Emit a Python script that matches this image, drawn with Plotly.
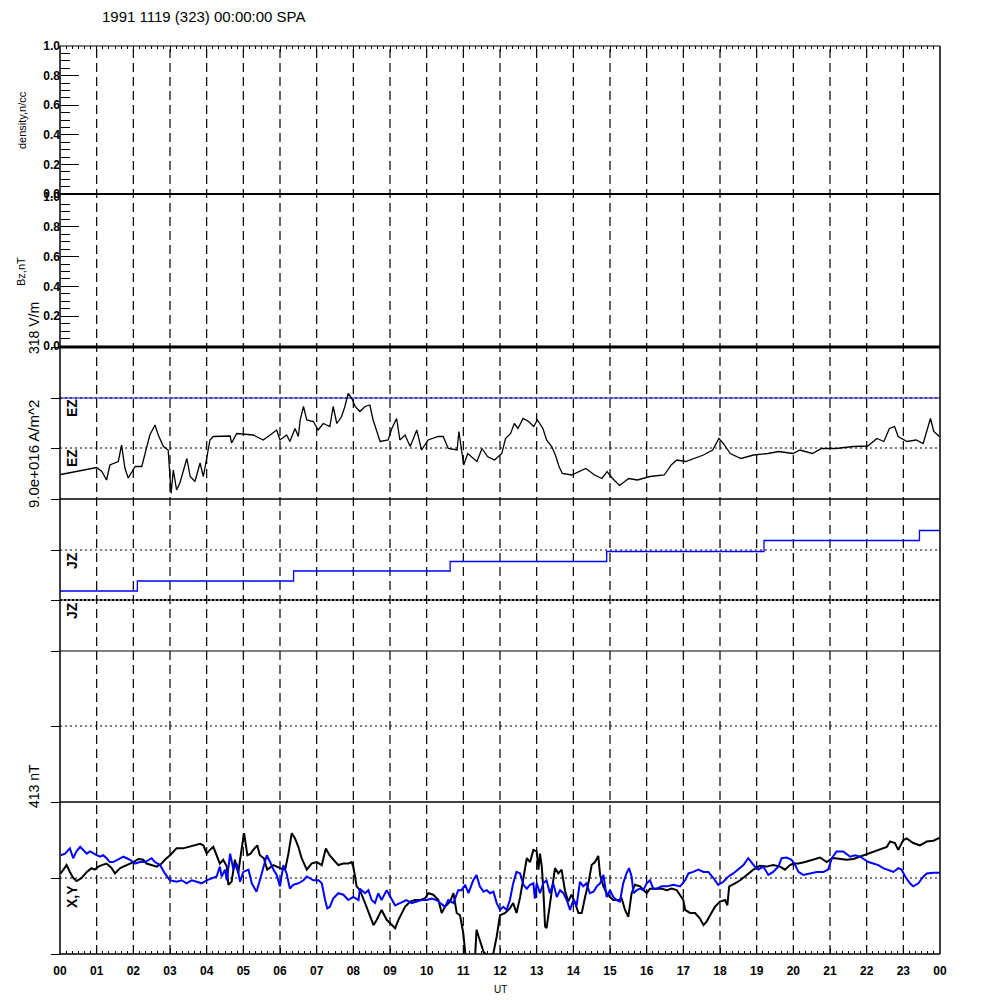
import plotly.graph_objects as go

TITLE = "1991 1119 (323) 00:00:00 SPA"
HOUR_TICKS = list(range(25))
HOUR_LABELS = ["%02d" % (h % 24) for h in range(25)]
GRID_HOURS = list(range(1, 24))

# EZ (arbitrary units: 0 = lower dotted reference, 1 = blue reference line)
EZ_HOURS = [0.02,1.00,1.14,1.27,1.36,1.59,1.68,1.77,1.86,2.05,
            2.23,2.32,2.45,2.59,2.68,2.82,2.95,3.03,3.09,3.18,
            3.27,3.46,3.55,3.68,3.82,3.91,4.00,4.09,4.18,4.64,
            4.68,4.82,5.27,5.54,5.73,5.91,6.00,6.18,6.27,6.41,
            6.50,6.55,6.64,6.73,6.91,7.04,7.18,7.36,7.45,7.55,
            7.68,7.77,7.86,7.96,8.05,8.18,8.32,8.45,8.54,8.68,
            8.73,8.95,9.05,9.18,9.27,9.41,9.55,9.73,9.86,10.04,
            10.32,10.45,10.59,10.83,10.88,11.01,11.12,11.37,11.51,11.66,
            11.85,12.05,12.15,12.29,12.39,12.49,12.63,12.78,12.92,13.02,
            13.17,13.27,13.41,13.51,13.61,13.70,13.95,14.34,14.58,14.78,
            14.92,15.07,15.26,15.51,15.75,16.09,16.48,16.67,16.82,17.06,
            17.31,17.55,17.80,17.97,18.09,18.28,18.57,18.92,19.31,19.60,
            19.99,20.18,20.52,20.77,21.16,21.64,22.03,22.28,22.47,22.62,
            22.76,22.86,23.10,23.35,23.54,23.64,23.74,23.83,23.98]
EZ_VALUES = [-0.53,-0.39,-0.47,-0.64,-0.34,-0.27,0.06,-0.40,-0.60,-0.37,
             -0.37,-0.10,0.26,0.46,0.26,0.03,-0.04,-0.91,-0.44,-0.84,
             -0.70,-0.21,-0.57,-0.67,-0.30,-0.57,-0.20,0.16,0.23,0.24,
             0.10,0.29,0.26,0.16,0.26,0.36,0.16,0.26,0.13,0.39,
             0.23,0.56,0.83,0.56,0.53,0.36,0.49,0.43,0.83,0.49,
             0.63,0.83,1.09,0.99,0.83,0.73,0.83,0.86,0.56,0.23,
             0.13,0.16,0.39,0.59,0.16,0.26,0.03,0.36,-0.04,0.16,
             0.23,0.23,-0.01,-0.04,0.33,-0.34,-0.11,-0.27,-0.01,-0.17,
             -0.24,-0.11,0.19,0.29,0.49,0.39,0.59,0.53,0.43,0.56,
             0.39,0.16,0.03,-0.14,-0.37,-0.51,-0.54,-0.41,-0.54,-0.61,
             -0.47,-0.61,-0.75,-0.61,-0.64,-0.57,-0.54,-0.34,-0.24,-0.27,
             -0.21,-0.14,-0.04,0.19,0.09,-0.11,-0.21,-0.14,-0.11,-0.07,
             -0.11,-0.04,-0.11,-0.01,-0.01,0.03,0.04,0.19,0.13,0.39,
             0.43,0.23,0.13,0.16,0.09,0.33,0.59,0.33,0.23]
EZ_REF = 1.0

# JZ step series
JZ_HOURS = [0.0, 2.11, 6.37, 10.64, 14.91, 19.20, 23.44, 24.0]
JZ_VALUES = [-0.82, -0.62, -0.42, -0.23, -0.03, 0.19, 0.39, 0.39]

# X (black) and Y (blue), normalised to +-413 nT
X_HOURS = [0.02,0.18,0.27,0.36,0.45,0.59,0.73,0.86,0.95,1.05,1.14,1.27,1.41,1.50,1.64,1.73,1.86,
           2.00,2.14,2.27,2.36,2.50,2.64,2.77,2.86,3.00,3.18,3.36,3.50,3.64,3.82,3.91,4.00,4.09,
           4.18,4.27,4.36,4.45,4.55,4.59,4.68,4.77,4.86,4.95,5.02,5.11,5.20,5.27,5.38,5.45,5.56,
           5.65,5.82,6.00,6.14,6.23,6.32,6.41,6.50,6.59,6.73,6.86,7.00,7.14,7.25,7.35,7.45,7.59,
           7.73,7.86,7.95,8.00,8.09,8.18,8.32,8.45,8.55,8.64,8.77,8.91,9.05,9.14,9.23,9.32,9.41,
           9.55,9.68,9.82,9.95,10.05,10.18,10.32,10.41,10.50,10.64,10.73,10.82,10.91,11.00,11.07,
           11.18,11.32,11.36,11.45,11.55,11.68,11.82,11.91,12.00,12.14,12.27,12.36,12.45,12.55,
           12.64,12.73,12.82,12.91,13.00,13.05,13.09,13.14,13.18,13.23,13.27,13.36,13.45,13.50,
           13.59,13.68,13.77,13.86,13.95,14.05,14.14,14.23,14.32,14.41,14.50,14.59,14.68,14.73,
           14.82,14.91,15.00,15.09,15.23,15.32,15.41,15.50,15.59,15.68,15.82,15.91,16.00,16.09,
           16.23,16.41,16.55,16.68,16.82,16.91,17.00,17.05,17.18,17.32,17.45,17.55,17.64,17.73,
           17.86,18.00,18.14,18.20,18.25,18.41,18.55,18.73,18.91,19.09,19.27,19.45,19.64,19.77,
           19.91,20.00,20.14,20.32,20.55,20.73,20.91,21.05,21.14,21.27,21.45,21.64,21.82,22.00,
           22.18,22.36,22.55,22.64,22.77,22.86,23.00,23.09,23.27,23.45,23.64,23.82,24.00]
X_VALUES = [0.06,0.17,0.08,0.00,-0.04,0.00,0.08,0.13,0.11,0.15,0.17,0.19,0.13,0.06,0.13,0.15,0.17,
            0.21,0.25,0.24,0.19,0.17,0.15,0.19,0.24,0.30,0.39,0.39,0.41,0.43,0.45,0.43,0.32,0.37,
            0.41,0.30,0.19,0.24,0.15,-0.09,-0.05,0.24,0.06,0.37,0.59,0.30,0.32,0.37,0.43,0.30,0.26,
            0.11,0.17,0.13,0.11,0.32,0.59,0.52,0.41,0.26,0.11,0.19,0.21,0.17,0.39,0.30,0.24,0.17,
            0.19,0.19,0.21,0.15,-0.11,-0.16,-0.33,-0.51,-0.62,-0.55,-0.42,-0.55,-0.62,-0.66,-0.55,-0.46,-0.38,
            -0.31,-0.29,-0.29,-0.27,-0.20,-0.22,-0.29,-0.46,-0.38,-0.31,-0.20,-0.46,-0.49,-0.73,-1.08,
            -1.25,-1.04,-0.68,-0.82,-0.97,-1.04,-0.99,-0.77,-0.49,-0.46,-0.40,-0.33,-0.46,-0.25,
            0.02,0.26,0.21,0.37,0.35,0.11,0.32,0.15,-0.14,-0.64,-0.66,-0.33,-0.03,0.13,
            0.06,0.11,-0.16,-0.31,-0.22,-0.33,-0.46,-0.46,-0.25,-0.07,0.17,0.21,0.29,0.04,
            -0.11,-0.20,-0.25,-0.29,-0.29,-0.27,-0.42,-0.51,-0.20,-0.09,-0.11,-0.16,-0.20,-0.14,
            -0.14,-0.14,-0.16,-0.14,-0.16,-0.22,-0.29,-0.42,-0.46,-0.46,-0.53,-0.62,-0.57,-0.49,
            -0.38,-0.31,-0.29,-0.36,-0.11,-0.07,-0.03,0.04,0.11,0.16,0.15,0.17,0.15,0.11,
            0.17,0.19,0.19,0.21,0.24,0.27,0.21,0.26,0.26,0.25,0.24,0.25,0.28,0.32,
            0.35,0.37,0.41,0.48,0.46,0.37,0.50,0.52,0.46,0.43,0.48,0.49,0.53]

Y_HOURS = [0.02,0.14,0.23,0.27,0.36,0.45,0.55,0.64,0.73,0.82,0.91,1.00,1.09,1.18,1.27,1.36,1.45,
           1.59,1.73,1.82,1.91,2.05,2.18,2.32,2.50,2.59,2.73,2.86,3.00,3.18,3.32,3.45,3.59,3.73,
           3.86,4.00,4.14,4.27,4.36,4.41,4.50,4.55,4.64,4.73,4.82,4.91,5.00,5.14,5.23,5.36,5.45,
           5.55,5.64,5.73,5.82,5.91,6.00,6.09,6.18,6.27,6.36,6.50,6.64,6.73,6.91,7.05,7.14,7.23,
           7.29,7.36,7.45,7.59,7.73,7.86,8.00,8.14,8.18,8.32,8.41,8.50,8.59,8.68,8.77,8.91,9.05,
           9.14,9.27,9.45,9.59,9.73,9.86,10.00,10.14,10.27,10.36,10.50,10.59,10.73,10.86,10.95,
           11.05,11.14,11.27,11.36,11.45,11.55,11.64,11.73,11.82,11.91,12.00,12.09,12.18,12.27,
           12.36,12.45,12.55,12.64,12.73,12.82,12.91,12.95,13.00,13.09,13.18,13.27,13.36,13.45,
           13.55,13.64,13.73,13.82,13.91,14.00,14.09,14.18,14.27,14.36,14.45,14.55,14.64,14.73,
           14.82,14.91,15.00,15.09,15.18,15.27,15.36,15.45,15.52,15.59,15.64,15.73,15.82,15.91,
           16.00,16.09,16.18,16.27,16.41,16.55,16.73,16.91,17.05,17.14,17.27,17.41,17.55,17.68,
           17.82,17.95,18.09,18.23,18.36,18.50,18.64,18.77,18.86,18.95,19.05,19.18,19.32,19.45,
           19.59,19.68,19.82,19.95,20.05,20.14,20.27,20.45,20.64,20.82,20.95,21.05,21.18,21.36,
           21.55,21.68,21.82,21.95,22.05,22.18,22.32,22.45,22.59,22.73,22.86,22.95,23.05,23.18,
           23.27,23.41,23.55,23.64,23.82,24.00]
Y_VALUES = [0.30,0.32,0.37,0.39,0.26,0.35,0.41,0.37,0.32,0.35,0.32,0.30,0.28,0.30,0.26,0.21,0.21,
            0.24,0.28,0.26,0.24,0.19,0.21,0.21,0.26,0.21,0.17,0.06,-0.03,-0.05,-0.03,-0.07,-0.03,-0.05,
            -0.07,-0.03,0.00,0.02,0.15,0.02,0.11,-0.03,0.32,0.11,0.19,-0.05,0.08,0.11,-0.07,-0.18,-0.03,
            0.15,0.30,0.21,0.11,0.04,-0.11,0.17,0.06,-0.14,-0.09,-0.07,-0.03,0.02,-0.03,-0.03,-0.07,-0.29,
            -0.40,-0.38,-0.27,-0.20,-0.22,-0.29,-0.25,-0.29,-0.14,-0.20,-0.16,-0.29,-0.33,-0.20,-0.29,-0.16,-0.29,
            -0.36,-0.33,-0.29,-0.33,-0.31,-0.29,-0.29,-0.27,-0.29,-0.33,-0.38,-0.29,-0.33,-0.16,-0.16,
            -0.09,-0.20,-0.03,0.04,-0.11,-0.18,-0.16,-0.20,-0.18,-0.33,-0.42,-0.38,-0.42,-0.29,
            -0.07,0.08,0.06,-0.09,-0.14,-0.09,-0.07,-0.27,-0.07,-0.20,-0.07,-0.03,-0.20,-0.07,
            -0.25,-0.16,-0.20,-0.29,-0.42,-0.29,-0.36,-0.05,-0.11,-0.07,-0.20,-0.18,-0.11,-0.07,
            0.04,-0.25,-0.16,-0.25,-0.29,-0.31,-0.07,0.06,0.13,0.02,-0.20,-0.16,-0.14,-0.16,
            -0.07,-0.03,-0.14,-0.14,-0.11,-0.11,-0.09,-0.11,-0.03,0.06,0.08,0.11,0.08,0.08,
            0.00,-0.09,-0.05,0.02,0.06,0.11,0.17,0.26,0.21,0.15,0.11,0.15,0.04,0.08,
            0.15,0.26,0.27,0.24,0.17,0.08,0.04,0.06,0.08,0.08,0.11,0.26,0.35,0.35,
            0.28,0.30,0.28,0.24,0.21,0.19,0.17,0.13,0.11,0.08,0.13,0.11,0.02,-0.07,
            -0.11,-0.07,0.02,0.06,0.07,0.07]

FONT = "Liberation Sans, Arial, Helvetica, sans-serif"

# The page body adds an 8px margin; positions below are page pixels shifted by it.
OFF = 8
SIZE = 1000


def pp(py):
    return 1 - (py - OFF) / SIZE


def qx(px):
    return (px - OFF) / SIZE


X0, X1 = qx(60), qx(940)

fig = go.Figure()

fig.add_trace(go.Scatter(x=[None], y=[None], xaxis="x", yaxis="y", showlegend=False, hoverinfo="skip"))
fig.add_trace(go.Scatter(x=[None], y=[None], xaxis="x2", yaxis="y", showlegend=False, hoverinfo="skip"))
fig.add_trace(go.Scatter(x=[None], y=[None], xaxis="x", yaxis="y2", showlegend=False, hoverinfo="skip"))
fig.add_trace(go.Scatter(x=[None], y=[None], xaxis="x", yaxis="y5", showlegend=False, hoverinfo="skip"))

fig.add_trace(go.Scatter(x=EZ_HOURS, y=EZ_VALUES, xaxis="x", yaxis="y3", mode="lines",
                         line=dict(color="black", width=1.3), showlegend=False, hoverinfo="skip"))
fig.add_trace(go.Scatter(x=JZ_HOURS, y=JZ_VALUES, xaxis="x", yaxis="y4", mode="lines",
                         line=dict(color="#0000ff", width=1.3, shape="hv"), showlegend=False, hoverinfo="skip"))
fig.add_trace(go.Scatter(x=X_HOURS, y=X_VALUES, xaxis="x", yaxis="y6", mode="lines",
                         line=dict(color="black", width=2), showlegend=False, hoverinfo="skip"))
fig.add_trace(go.Scatter(x=Y_HOURS, y=Y_VALUES, xaxis="x", yaxis="y6", mode="lines",
                         line=dict(color="#0000ff", width=2), showlegend=False, hoverinfo="skip"))

tickfont = dict(family=FONT, size=12, color="black", weight="bold")
XD = [X0, X1]

common_y = dict(showgrid=False, zeroline=False, showline=False, anchor="free", position=X0,
                automargin=False)
hidden_y = dict(common_y, showticklabels=False, ticks="outside", ticklen=9, tickcolor="black",
                tickwidth=1, mirror="ticks")

fig.update_layout(
    width=SIZE, height=SIZE, autosize=False,
    margin=dict(l=0, r=0, t=0, b=0, pad=0, autoexpand=False),
    paper_bgcolor="white", plot_bgcolor="rgba(0,0,0,0)",
    showlegend=False,
    xaxis=dict(domain=XD, range=[0, 24], anchor="y6", tickmode="array", tickvals=HOUR_TICKS,
               ticktext=HOUR_LABELS, ticks="inside", ticklen=6, tickcolor="black",
               minor=dict(tickmode="linear", tick0=0, dtick=1 / 6, ticks="inside", ticklen=3,
                          tickcolor="black"),
               showgrid=False, zeroline=False, showline=False, tickfont=tickfont,
               ticklabelstandoff=8, automargin=False),
    xaxis2=dict(domain=XD, range=[0, 24], anchor="y", overlaying="x", side="top",
                tickmode="array", tickvals=HOUR_TICKS, ticks="inside", ticklen=6,
                tickcolor="black", showticklabels=False, automargin=False,
                minor=dict(tickmode="linear", tick0=0, dtick=1 / 6, ticks="inside", ticklen=3,
                           tickcolor="black"),
                showgrid=False, zeroline=False, showline=False),
    yaxis=dict(common_y, domain=[pp(194), pp(46)], range=[0, 1], tick0=0, dtick=0.2,
               tickformat=".1f", ticks="inside", ticklen=18, tickcolor="black",
               minor=dict(tick0=0, dtick=0.05, ticks="inside", ticklen=9, tickcolor="black"),
               tickfont=tickfont),
    yaxis2=dict(common_y, domain=[pp(346), pp(197)], range=[0, 1], tick0=0, dtick=0.2,
                tickformat=".1f", ticks="inside", ticklen=18, tickcolor="black",
                minor=dict(tick0=0, dtick=0.05, ticks="inside", ticklen=9, tickcolor="black"),
                tickfont=tickfont),
    yaxis3=dict(hidden_y, domain=[pp(499), pp(347)], range=[-1.02, 2.02],
                tickmode="array", tickvals=[-1.02, 0, 1, 2.02]),
    yaxis4=dict(hidden_y, domain=[pp(600), pp(499)], range=[-1.0, 1.02],
                tickmode="array", tickvals=[-1.0, 0]),
    yaxis5=dict(hidden_y, domain=[pp(802), pp(600)], range=[0, 2.02],
                tickmode="array", tickvals=[0, 0.76, 1.51]),
    yaxis6=dict(hidden_y, domain=[pp(954), pp(802)], range=[-1, 1],
                tickmode="array", tickvals=[-1, 0, 1]),
)

shapes = []
# hourly dashed lines
for h in GRID_HOURS:
    shapes.append(dict(type="line", xref="x", yref="paper", x0=h, x1=h, y0=pp(954), y1=pp(46),
                       line=dict(color="black", width=1.2, dash="9px,5px"), layer="below"))
# blue EZ reference line
shapes.append(dict(type="line", xref="paper", yref="y3", x0=X0, x1=X1, y0=EZ_REF, y1=EZ_REF,
                   line=dict(color="#0000ff", width=1.2), layer="below"))
# dotted reference lines
dot = dict(color="black", width=1.2, dash="2px,3px")
for ref in [("y3", 0), ("y3", 1), ("y4", 0), ("y6", 0), ("y5", 0.76)]:
    shapes.append(dict(type="line", xref="paper", yref=ref[0], x0=X0, x1=X1, y0=ref[1],
                       y1=ref[1], line=dot, layer="below"))
shapes.append(dict(type="line", xref="paper", yref="paper", x0=X0, x1=X1, y0=pp(600), y1=pp(600),
                   line=dict(color="black", width=2, dash="2px,2px")))
# frame lines
for py, w in [(46, 1.2), (194, 2), (347, 3), (499, 1.3), (600, 1.2), (651, 1.2), (802, 1.3), (954, 1.5)]:
    shapes.append(dict(type="line", xref="paper", yref="paper", x0=X0, x1=X1, y0=pp(py), y1=pp(py),
                       line=dict(color="black", width=w)))
for xx in [X0, X1]:
    shapes.append(dict(type="line", xref="paper", yref="paper", x0=xx, x1=xx, y0=pp(954), y1=pp(46),
                       line=dict(color="black", width=1.5)))
fig.update_layout(shapes=shapes)

ann = []
ann.append(dict(text=TITLE, x=qx(100), y=pp(16), xanchor="left", yanchor="middle",
                font=dict(family=FONT, size=15, color="black")))
side_labels = [("density,n/cc", 22, 120, 11), ("Bz,nT", 21, 272, 11),
               ("318 V/m", 34, 328, 14), ("9.0e+016 A/m^2", 34, 454, 15),
               ("413 nT", 34, 786, 14)]
for t, x, y, s in side_labels:
    ann.append(dict(text=t, x=qx(x), y=pp(y), xanchor="center", yanchor="middle", textangle=-90,
                    font=dict(family=FONT, size=s, color="black")))
panel_labels = [("EZ", 408), ("EZ", 458), ("JZ", 561), ("JZ", 611), ("X,Y", 897)]
for t, y in panel_labels:
    ann.append(dict(text=t, x=qx(72), y=pp(y), xanchor="center", yanchor="middle", textangle=-90,
                    font=dict(family=FONT, size=14, color="black", weight="bold")))
ann.append(dict(text="UT", x=qx(500), y=pp(989), xanchor="center", yanchor="middle",
                font=dict(family=FONT, size=10, color="black")))
for a in ann:
    a.update(xref="paper", yref="paper", showarrow=False)
fig.update_layout(annotations=ann)

fig.write_html("out.html")
